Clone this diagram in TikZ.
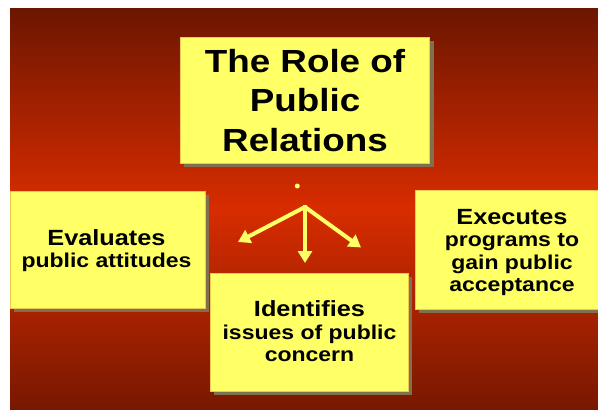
\documentclass[tikz,border=0pt]{standalone}
\usepackage{fontspec}
\setmainfont{Liberation Sans}[FakeStretch=1.15]
\usetikzlibrary{arrows.meta,shadows}
\definecolor{bgtop}{RGB}{108,22,0}
\definecolor{bgmid}{RGB}{216,44,0}
\definecolor{bgbot}{RGB}{120,24,0}
\definecolor{boxyellow}{RGB}{255,255,102}
\definecolor{boxedge}{RGB}{240,200,80}
\definecolor{shadowc}{RGB}{128,112,80}
\begin{document}
\begin{tikzpicture}[x=1pt,y=-1pt,
  box/.style={rectangle, fill=boxyellow, draw=boxedge, line width=0.4pt, inner sep=0pt,
    drop shadow={shadow xshift=4pt, shadow yshift=-4pt, opacity=1, fill=shadowc}},
  lbl/.style={align=center, inner sep=0pt, text=black},
  conn/.style={draw=boxyellow, line width=4pt, -{Triangle[width=14pt,length=12pt]}}]
\useasboundingbox (0,0) rectangle (598,410);
\clip (0,0) rectangle (598,410);
% background gradient drawn as thin strips
\foreach \i in {0,...,200}{
  \pgfmathsetmacro{\yy}{8+2*\i}
  \pgfmathtruncatemacro{\pp}{\i<=100 ? \i : \i-100}
  \ifnum\i>100
    \fill[bgbot!\pp!bgmid] (10,\yy) rectangle (598,\yy+2.6);
  \else
    \fill[bgmid!\pp!bgtop] (10,\yy) rectangle (598,\yy+2.6);
  \fi
}

% boxes
\node[box, minimum width=249.5pt, minimum height=126.5pt] (title) at (304.75,100) {};
\node[box, minimum width=195pt, minimum height=117.5pt] (evalbox) at (107.5,249.5) {};
\node[box, minimum width=190pt, minimum height=119pt] (execbox) at (510,249.5) {};
\node[box, minimum width=198pt, minimum height=118pt] (identbox) at (309,331.7) {};

% texts
\node[lbl, font=\bfseries\fontsize{32}{39.7}\selectfont] (titletext) at (305,100.4) {The Role of\\Public\\Relations};
\node[lbl, font=\bfseries\fontsize{20}{21.6}\selectfont] (evaltext) at (106.5,250.6) {{\fontsize{22}{21.6}\selectfont Evaluates}\\public attitudes};
\node[lbl, font=\bfseries\fontsize{20}{22.2}\selectfont] (exectext) at (512,252.5) {{\fontsize{22}{22.2}\selectfont Executes}\\programs to\\gain public\\acceptance};
\node[lbl, font=\bfseries\fontsize{20}{22.5}\selectfont] (identtext) at (309.5,331.2) {{\fontsize{22}{22.5}\selectfont Identifies}\\issues of public\\concern};

% dot and arrows
\node[circle, fill=boxyellow, inner sep=0pt, minimum size=5pt] (dot) at (297.3,186) {};
\coordinate (hub) at (305,207);
\coordinate (stemtop) at (305,205);
\coordinate (tipL) at (238,242);
\coordinate (tipD) at (305,263);
\coordinate (tipR) at (361,247.5);
\draw[conn] (hub) -- (tipL);
\draw[conn] (hub) -- (tipR);
\draw[conn] (stemtop) -- (tipD);
\end{tikzpicture}
\end{document}
